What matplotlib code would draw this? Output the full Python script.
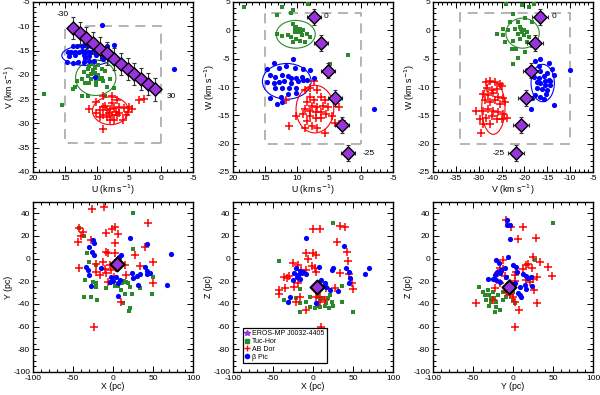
import matplotlib
matplotlib.use("Agg")
import matplotlib.pyplot as plt
import matplotlib.patches as mpatches
from matplotlib.lines import Line2D
from matplotlib.ticker import MultipleLocator

plt.rcParams["font.family"] = ["Liberation Sans", "DejaVu Sans"]
plt.rcParams["axes.unicode_minus"] = False

C_BLUE = "#0000ff"
C_GREEN = "#2a8a2a"
C_RED = "#ff0000"
C_PURP = "#9933dd"

# ---- UVW space (km/s) ----
uv_blue_u = [9.2, 13.8, 13.2, 12.4, 12.0, 11.6, 11.0, 10.1, 8.4, 7.3, 14.6, 14.0, 13.4, 12.8, 12.4, 11.8, 11.4,
             10.9, 10.5, 9.8, 9.4, 14.3, 13.4, 12.1, 11.3, 10.2, 9.0, 14.7, 13.8, 12.9, 12.1, 11.2, 10.5, 9.1,
             10.3, -2.0, 7.9, 11.8]
uv_blue_v = [-9.8, -14.0, -14.1, -14.0, -13.8, -14.1, -14.0, -14.2, -14.0, -13.8, -15.3, -15.2, -15.3, -15.2,
             -15.0, -15.3, -15.2, -15.3, -15.0, -15.3, -15.2, -16.2, -16.0, -15.9, -16.2, -16.0, -16.4, -17.4,
             -17.6, -17.3, -17.4, -17.1, -17.1, -16.7, -20.4, -18.7, -15.3, -16.6]
uv_green_u = [18.3, 15.5, 13.8, 13.4, 12.4, 11.4, 12.0, 11.4, 11.2, 10.7, 10.3, 9.8, 9.2, 8.7, 11.4, 10.9, 10.3,
              9.8, 9.2, 10.9, 10.1, 9.5, 9.0, 11.8, 11.2, 10.1, 8.7, 8.4, 7.3, 2.4, 12.4, 13.1, 10.6, 8.0]
uv_green_v = [-24.0, -26.2, -22.9, -22.5, -24.3, -24.3, -19.5, -18.8, -18.1, -17.8, -18.5, -18.0, -18.8, -19.2,
              -20.2, -19.9, -19.7, -20.1, -20.6, -20.9, -21.3, -20.9, -21.3, -21.6, -21.6, -22.0, -24.3, -22.5,
              -22.7, -22.2, -20.9, -21.3, -19.0, -20.9]
uv_red_u = [11.3, 10.2, 9.0, 7.6, 6.9, 5.0, 4.5, 3.5, 2.6, 9.0, 9.5, 9.1, 8.7, 8.4, 8.1, 7.9, 7.6, 8.4, 9.0, 7.9,
            7.3, 6.8, 5.9, 5.4, 5.8, 6.5, 7.3, 7.0, 9.5, 10.1, 7.6, 6.5, 5.1]
uv_red_v = [-27.1, -25.5, -24.3, -24.3, -25.1, -26.7, -27.1, -25.1, -25.0, -31.1, -27.2, -26.7, -26.4, -27.2,
            -27.9, -27.1, -28.3, -28.6, -28.3, -29.3, -29.2, -28.3, -29.3, -28.3, -26.9, -26.7, -26.9, -27.6,
            -28.6, -27.9, -25.8, -27.9, -27.6]

uw_green_u = [18.3, 12.3, 10.6, 8.3, 13.1, 10.9, 11.4, 10.6, 10.1, 9.5, 10.3, 9.8, 9.0, 9.2, 8.4, 10.9, 10.1, 9.5,
              10.6, 8.8, 12.3, 13.1, 7.9, 2.1, 4.9, 9.8, 9.3, 10.3]
uw_green_w = [4.2, 4.2, 3.6, 4.6, 2.7, 3.0, -0.9, 1.2, 0.6, 0.3, -0.3, -0.3, 0.0, -0.9, -0.6, -1.2, -1.5, -1.8,
              -2.1, -2.0, -1.0, -0.6, -1.2, -4.4, -6.0, 0.3, -0.3, 0.4]
uw_blue_u = [10.6, 13.6, 14.7, 12.8, 11.7, 10.3, 9.1, 7.9, 14.2, 13.4, 12.3, 11.4, 10.9, 10.1, 9.2, 8.4, 14.7,
             13.6, 12.8, 12.0, 10.9, 9.8, 9.0, 13.4, 12.3, 11.2, 10.1, 14.2, 12.5, 11.4, 10.1, 13.1, 12.3, -2.0, 7.3]
uw_blue_w = [-5.1, -5.7, -6.8, -6.6, -6.3, -6.6, -6.9, -7.0, -7.8, -8.3, -7.8, -8.1, -8.4, -8.4, -8.3, -8.7, -9.2,
             -9.3, -9.2, -9.0, -9.3, -9.0, -8.7, -10.2, -10.2, -10.1, -10.2, -12.0, -11.7, -11.3, -11.1, -13.0,
             -12.7, -13.9, -8.4]
uw_red_u = [7.3, 7.9, 8.7, 6.8, 7.9, 7.3, 6.2, 5.7, 8.4, 7.6, 6.8, 5.9, 8.7, 7.9, 7.0, 6.2, 5.1, 9.0, 7.9, 7.0,
            6.2, 5.4, 4.6, 3.5, 8.4, 7.6, 6.8, 8.7, 5.7, 11.2, 11.7, 4.0, 2.9, 10.1]
uw_red_w = [-9.0, -10.2, -10.5, -10.5, -11.7, -12.3, -11.7, -12.3, -12.7, -13.3, -13.6, -13.3, -13.9, -14.2,
            -14.5, -14.5, -13.6, -14.8, -15.1, -15.4, -15.4, -14.8, -15.1, -13.6, -16.0, -16.9, -17.2, -17.2,
            -18.1, -16.9, -12.3, -16.3, -16.0, -15.1]

vw_green_v = [-24.0, -20.6, -19.1, -18.0, -22.4, -19.9, -23.2, -21.3, -18.4, -24.6, -23.5, -22.1, -21.0, -20.2,
              -19.5, -21.3, -20.2, -19.1, -21.0, -22.4, -24.3, -19.5, -18.4, -21.8, -19.9, -22.8, -22.4, -24.6,
              -26.1, -21.3, -20.6, -20.8]
vw_green_w = [4.6, 4.5, 4.2, 4.6, 2.8, 2.1, 1.5, 1.5, 1.5, 0.3, 0.0, 0.2, 0.6, 0.0, -0.3, -0.6, -0.9, -1.2, -1.5,
              -1.8, -2.1, -2.1, -2.7, -3.3, -3.9, -3.3, -6.0, -0.9, -0.6, -4.8, -0.3, 0.2]
vw_blue_v = [-17.7, -16.6, -14.7, -16.9, -19.5, -16.6, -15.1, -14.0, -13.6, -10.0, -18.0, -16.9, -15.8, -14.7,
             -16.6, -15.5, -14.4, -17.3, -16.2, -15.1, -17.7, -16.6, -15.3, -18.4, -15.8, -18.6, -13.5, -14.5,
             -17.3, -15.5]
vw_blue_w = [-5.4, -5.1, -5.7, -6.3, -7.0, -7.2, -7.5, -6.9, -7.8, -7.0, -8.3, -8.4, -8.1, -8.7, -9.3, -9.6, -9.6,
             -10.1, -10.4, -10.5, -11.4, -11.7, -11.3, -12.0, -12.2, -13.9, -13.1, -9.0, -9.2, -8.9]
vw_red_v = [-28.4, -27.6, -26.5, -25.4, -28.1, -27.0, -25.9, -25.0, -29.0, -27.9, -26.8, -25.7, -24.6, -28.7,
            -27.6, -26.5, -25.4, -24.3, -30.6, -29.0, -27.9, -26.8, -25.7, -24.6, -28.3, -27.2, -26.1, -25.0,
            -23.9, -29.0, -27.6, -29.4, -29.8]
vw_red_w = [-9.2, -9.0, -9.2, -9.5, -10.1, -10.5, -10.4, -9.9, -11.3, -11.4, -11.1, -11.7, -12.0, -12.3, -12.7,
            -12.3, -13.0, -12.7, -14.2, -14.2, -13.9, -14.2, -14.5, -14.8, -15.4, -15.1, -15.7, -15.7, -15.5,
            -16.6, -16.6, -18.1, -15.7]

# target star for a range of radial velocities
uv_targ_u = [13.8, 12.7, 11.7, 10.6, 9.5, 8.5, 7.4, 6.3, 5.2, 4.2, 3.1, 2.0, 1.0]
uv_targ_v = [-10.3, -11.4, -12.4, -13.5, -14.6, -15.6, -16.7, -17.7, -18.8, -19.8, -20.9, -21.9, -23.0]
uw_targ_u = [7.3, 6.2, 5.1, 4.1, 3.0, 2.0]
uw_targ_w = [2.4, -2.3, -7.1, -11.9, -16.7, -21.7]
vw_targ_v = [-16.6, -17.7, -18.6, -19.6, -20.8, -21.8]
vw_targ_w = [2.4, -2.3, -7.1, -11.9, -16.7, -21.7]

# group ellipses: (cx, cy, width, height) for blue, green, red
uv_ell = [(11.4, -16.0, 8.2, 4.2), (10.2, -20.6, 6.3, 7.3), (7.9, -27.4, 5.6, 5.7)]
uw_ell = [(11.6, -9.0, 7.6, 6.3), (10.2, -0.7, 6.1, 4.9), (7.2, -13.9, 5.9, 8.4)]
vw_ell = [(-16.0, -9.3, 5.1, 6.6), (-20.4, -0.5, 7.3, 5.3), (-26.8, -13.7, 5.1, 9.3)]

# ---- XYZ space (pc) ----
xy_red_x = [-26.1, -11.8, 44.2, -42.1, -37.9, -40.0, -43.4, -8.4, 2.1, -0.8, 6.3, -8.4, -6.3, 2.1, 2.1, 27.4,
            -42.9, -21.1, -12.6, -4.2, 6.3, 8.4, -2.1, 4.2, 14.7, 40.0, 33.7, 50.5, 50.5, -6.3, 10.5, -23.2,
            -16.8, -8.4, 16.8, 0.8, -21.1, -27.4, -10.5]
xy_red_y = [43.5, 45.9, 31.8, 26.8, 23.8, 20.0, 15.0, 22.4, 27.6, 25.9, 21.8, 6.2, 4.7, 14.1, 4.7, 3.2, -7.9,
            -4.7, -2.6, -5.6, -1.2, -5.6, -10.0, -8.5, -5.6, 10.6, -6.5, -2.6, -21.8, -20.3, -37.9, -60.6,
            -14.4, -12.4, -14.4, -16.5, -11.5, 16.5, -9.4]
xy_blue_x = [-25.3, -24.0, -30.3, -26.1, 7.2, 21.1, 42.1, 9.7, 9.3, -33.7, -31.6, -30.3, -14.7, -2.1, 0.0, 4.2,
             6.3, 8.4, 23.2, 25.3, 29.5, 33.7, 40.0, 42.1, 42.9, 46.3, 31.6, -27.4, 72.4, 67.4, 6.3, -4.2, -23.2]
xy_blue_y = [16.5, 13.5, 10.0, 6.2, 1.8, 18.5, 12.6, 3.2, -4.1, -7.6, -10.0, -14.4, -7.9, -15.9, -19.7, -15.9,
             -21.8, -18.8, -12.4, -17.4, -15.3, -13.5, -7.6, -10.6, -13.5, -12.4, -23.2, -24.1, 4.1, -23.2,
             -32.6, -20.3, 3.2]
xy_green_x = [-42.9, -35.8, -32.8, -30.3, -21.1, -34.5, -24.4, -21.1, -27.4, -35.8, -20.2, -8.4, -4.2, 2.1, 6.3,
              11.8, 13.5, 16.0, 18.9, 21.1, 10.5, 14.7, 23.2, 12.6, 21.1, 20.2, 33.7, 48.4, 49.7, 24.4, 4.2,
              24.4, -21.1]
xy_green_y = [26.8, 20.0, 4.7, -2.6, -5.6, -18.8, -20.3, -24.7, -33.5, -34.1, -36.5, -26.2, -21.8, -24.1, -24.1,
              -21.8, -19.4, -20.3, -21.8, -25.3, -27.6, -31.2, -31.2, -39.4, -43.8, -45.9, -25.6, -31.2, -15.9,
              8.2, -4.1, 40.6, -21.2]

xz_red_x = [9.3, 0.0, 33.7, 40.0, 29.5, 42.1, -8.4, -6.3, 0.0, 4.2, -24.4, -18.9, -14.7, -9.3, -0.8, 2.1, 3.4,
            -16.8, -29.5, -35.8, -32.8, -18.9, -23.2, -34.5, -42.1, -42.9, -21.1, -16.8, -8.4, 3.4, 9.3, 9.3,
            14.7, 9.3, 33.7, 44.2, 45.5, 48.4, 50.5, 27.4, 10.5, 16.8]
xz_red_z = [25.9, 25.9, 28.8, 28.2, 15.0, 6.2, 4.7, -0.6, 5.3, 3.2, -3.5, -5.6, -10.0, -10.0, -6.5, -8.5, -11.5,
            -14.4, -15.3, -16.5, -17.4, -21.2, -25.3, -26.2, -27.6, -31.2, -37.9, -33.5, -45.3, -33.5, -33.5,
            -37.9, -36.5, -24.1, -12.4, -1.8, -13.5, -21.8, -27.1, -26.2, -60.0, -26.2]
xz_blue_x = [-9.3, 38.7, -21.1, -16.8, -23.2, -18.9, -12.6, -25.3, -16.8, -8.4, 7.6, 23.2, 25.3, 41.3, 45.5,
             46.3, 45.5, 65.3, 69.5, 10.5, 14.7, 16.8, 21.1, 31.6, 4.2, -31.6, -28.6, -20.2, -14.7]
xz_blue_z = [18.5, 11.2, -8.5, -10.6, -12.9, -14.4, -11.5, -18.8, -18.2, -13.5, -7.1, -10.0, -8.5, -8.5, -11.5,
             -17.4, -21.8, -13.5, -8.5, -18.8, -21.2, -24.7, -27.6, -28.2, -38.8, -37.9, -33.5, -15.9, -12.9]
xz_green_x = [-42.1, 24.4, 35.8, -16.8, -21.1, -29.5, -35.8, -16.8, -8.4, -4.2, 6.3, 8.4, 12.6, 18.9, 21.1, 23.2,
              16.8, 14.7, 6.3, 25.3, 35.8, 20.2, 8.4, -4.2, 2.1, -16.8, 50.5]
xz_green_z = [-2.1, 31.8, -24.1, -27.1, -35.0, -37.9, -36.5, -38.8, -37.9, -34.1, -33.5, -36.5, -35.0, -35.0,
              -32.1, -37.9, -39.4, -41.8, -41.8, -41.8, -37.9, -43.8, -42.4, -42.4, -43.8, -46.8, -46.8]

yz_green_y = [49.7, 27.4, -42.1, -37.9, -31.6, -34.5, -29.5, -27.4, -23.2, -21.1, -27.4, -21.1, -16.8, -12.6,
              -8.4, -4.2, 0.0, 0.0, 2.1, -12.6, -25.3, -21.9, -33.7, -29.5, -18.9]
yz_green_z = [31.8, -1.2, -25.3, -29.1, -27.6, -32.1, -32.1, -35.0, -35.0, -37.9, -37.9, -42.4, -45.3, -36.5,
              -33.5, -30.6, -29.1, -36.5, -39.4, -29.1, -29.1, -46.8, -36.5, -41.8, -32.1]
yz_red_y = [-8.4, -2.1, 12.6, 6.3, 28.6, -12.6, 25.3, 18.9, 16.0, 33.7, 44.2, 48.4, 23.2, 12.6, 3.4, 2.1, 2.1,
            -4.2, -16.8, -12.6, -21.9, 16.8, 21.1, 25.3, 29.5, 26.1, 29.5, 2.1, 7.6, -4.2, 0.0, -10.5, -16.8,
            -46.3, -25.3, 2.1, -8.4, -18.9]
yz_red_z = [34.1, 27.6, 27.6, 17.1, 17.9, -1.2, 1.8, -4.7, -5.6, -2.6, -7.1, -15.3, -8.5, -9.4, -11.5, -14.4,
            -19.4, -21.8, -8.5, -9.4, -26.2, -18.8, -20.3, -18.2, -16.5, -27.6, -38.8, -37.9, -45.3, -32.1,
            -33.5, -15.3, -21.8, -39.4, -36.5, -60.0, -29.1, -12.4]
yz_blue_y = [-7.6, -7.6, -4.2, -4.2, -21.1, -17.7, -6.3, 0.0, 4.2, 5.1, -10.5, -14.7, -20.2, -16.8, -21.9, -25.3,
             -31.6, -21.1, -16.8, 12.6, 16.0, 18.9, 21.9, 14.7, 16.8, 23.2, 8.4, 6.3, 8.4, 10.5, -9.3, 2.1]
yz_blue_z = [34.1, 29.7, 29.7, 17.1, -1.2, -3.5, 1.2, -5.6, -7.1, -11.5, -8.5, -10.0, -11.5, -12.9, -14.4, -18.2,
             -18.2, -18.8, -20.3, -13.5, -15.3, -17.4, -15.9, -23.2, -27.1, -24.1, -24.7, -30.6, -32.1, -34.1,
             -15.9, -21.8]

targ_x, targ_y, targ_z = 5.5, -4.5, -25.0

labels = ["EROS-MP J0032-4405", "Tuc-Hor", "AB Dor", "\u03b2 Pic"]

fig = plt.figure(figsize=(6.0, 3.95), dpi=100)
W, H = 160 / 600, 170 / 395
ax1 = fig.add_axes([33 / 600, 1 - 172 / 395, W, H])
ax2 = fig.add_axes([233 / 600, 1 - 172 / 395, W, H])
ax3 = fig.add_axes([433 / 600, 1 - 172 / 395, W, H])
ax4 = fig.add_axes([33 / 600, 1 - 372 / 395, W, H])
ax5 = fig.add_axes([233 / 600, 1 - 372 / 395, W, H])
ax6 = fig.add_axes([433 / 600, 1 - 372 / 395, W, H])

LBL = 6.3


def style(ax, xmaj, xmin, ymaj, ymin):
    ax.xaxis.set_major_locator(MultipleLocator(xmaj))
    ax.xaxis.set_minor_locator(MultipleLocator(xmin))
    ax.yaxis.set_major_locator(MultipleLocator(ymaj))
    ax.yaxis.set_minor_locator(MultipleLocator(ymin))
    ax.tick_params(which="both", direction="in", top=True, right=True, labelsize=6, width=0.7, pad=2)
    ax.tick_params(which="major", length=4)
    ax.tick_params(which="minor", length=2)
    for s in ax.spines.values():
        s.set_linewidth(1.0)


def cloud(ax, bx, by, gx, gy, rx, ry):
    ax.scatter(gx, gy, marker="s", s=9, color=C_GREEN, zorder=3, linewidths=0)
    ax.scatter(rx, ry, marker="+", s=28, color=C_RED, zorder=3, linewidths=1.1)
    ax.scatter(bx, by, marker="o", s=14, color=C_BLUE, zorder=3, linewidths=0)


def ellipses(ax, ell):
    for (cx, cy, w, h), c in zip(ell, [C_BLUE, C_GREEN, C_RED]):
        ax.add_patch(mpatches.Ellipse((cx, cy), w, h, fill=False, edgecolor=c, lw=0.8, zorder=2))


def box(ax, x0, y0, w, h):
    ax.add_patch(mpatches.Rectangle((x0, y0), w, h, fill=False, edgecolor="#a8a8a8", lw=1.2,
                                    linestyle=(0, (6, 4)), zorder=1))


def target(ax, x, y, xe, ye):
    ax.errorbar(x, y, xerr=xe, yerr=ye, fmt="none", ecolor="#333333", elinewidth=0.8, capsize=1.5,
                capthick=0.8, zorder=4)
    ax.scatter(x, y, marker="D", s=45, color=C_PURP, edgecolors="black", linewidths=1.0, zorder=5)


kms = " (km s$^{-1}$)"

# U-V
cloud(ax1, uv_blue_u, uv_blue_v, uv_green_u, uv_green_v, uv_red_u, uv_red_v)
ellipses(ax1, uv_ell)
box(ax1, 0, -34, 15, 24)
target(ax1, uv_targ_u, uv_targ_v, 0.3, 2.3)
ax1.text(15.4, -7.6, "-30", fontsize=6, ha="center", va="center")
ax1.text(-1.6, -24.4, "30", fontsize=6, ha="center", va="center")
ax1.set_xlim(20, -5)
ax1.set_ylim(-40, -5)
style(ax1, 5, 1, 5, 1)
ax1.set_xlabel("U" + kms, fontsize=LBL, labelpad=0.5)
ax1.set_ylabel("V" + kms, fontsize=LBL, labelpad=0.5)

# U-W
cloud(ax2, uw_blue_u, uw_blue_w, uw_green_u, uw_green_w, uw_red_u, uw_red_w)
ellipses(ax2, uw_ell)
box(ax2, 0, -20, 15, 23)
target(ax2, uw_targ_u, uw_targ_w, 1.1, 1.4)
ax2.text(5.4, 2.4, "0", fontsize=6, ha="center", va="center")
ax2.text(-1.2, -21.7, "-25", fontsize=6, ha="center", va="center")
ax2.set_xlim(20, -5)
ax2.set_ylim(-25, 5)
style(ax2, 5, 1, 5, 1)
ax2.set_xlabel("U" + kms, fontsize=LBL, labelpad=0.5)
ax2.set_ylabel("W" + kms, fontsize=LBL, labelpad=0.5)

# V-W
cloud(ax3, vw_blue_v, vw_blue_w, vw_green_v, vw_green_w, vw_red_v, vw_red_w)
ellipses(ax3, vw_ell)
box(ax3, -34, -20, 24, 23)
target(ax3, vw_targ_v, vw_targ_w, 1.7, 1.4)
ax3.text(-13.6, 2.4, "0", fontsize=6, ha="center", va="center")
ax3.text(-25.7, -21.7, "-25", fontsize=6, ha="center", va="center")
ax3.set_xlim(-40, -5)
ax3.set_ylim(-25, 5)
style(ax3, 5, 1, 5, 1)
ax3.set_xlabel("V" + kms, fontsize=LBL, labelpad=0.5)
ax3.set_ylabel("W" + kms, fontsize=LBL, labelpad=0.5)


def targ_xyz(ax, x, y):
    ax.scatter(x, y, marker="D", s=50, color=C_PURP, edgecolors="black", linewidths=1.5, zorder=5)


cloud(ax4, xy_blue_x, xy_blue_y, xy_green_x, xy_green_y, xy_red_x, xy_red_y)
targ_xyz(ax4, targ_x, targ_y)
ax4.set_xlabel("X (pc)", fontsize=LBL, labelpad=0.5)
ax4.set_ylabel("Y (pc)", fontsize=LBL, labelpad=0.5)

cloud(ax5, xz_blue_x, xz_blue_z, xz_green_x, xz_green_z, xz_red_x, xz_red_z)
targ_xyz(ax5, targ_x, targ_z)
ax5.set_xlabel("X (pc)", fontsize=LBL, labelpad=0.5)
ax5.set_ylabel("Z (pc)", fontsize=LBL, labelpad=0.5)

cloud(ax6, yz_blue_y, yz_blue_z, yz_green_y, yz_green_z, yz_red_y, yz_red_z)
targ_xyz(ax6, targ_y, targ_z)
ax6.set_xlabel("Y (pc)", fontsize=LBL, labelpad=0.5)
ax6.set_ylabel("Z (pc)", fontsize=LBL, labelpad=0.5)

for ax in (ax4, ax5, ax6):
    ax.set_xlim(-100, 100)
    ax.set_ylim(-100, 50)
    style(ax, 50, 10, 20, 5)

handles = [
    Line2D([], [], marker="*", ls="none", color=C_PURP, markersize=4),
    Line2D([], [], marker="s", ls="none", color=C_GREEN, markersize=3),
    Line2D([], [], marker="+", ls="none", color=C_RED, markersize=4, markeredgewidth=1),
    Line2D([], [], marker="o", ls="none", color=C_BLUE, markersize=3),
]
leg = ax5.legend(handles, labels, loc="lower left", bbox_to_anchor=(0.06, 0.055), fontsize=5,
                 handlelength=0.8, handletextpad=0.3, borderpad=0.3, labelspacing=0.1,
                 fancybox=False, framealpha=1, edgecolor="black", borderaxespad=0)
leg.get_frame().set_linewidth(0.9)

fig.savefig("out.png", dpi=100)
